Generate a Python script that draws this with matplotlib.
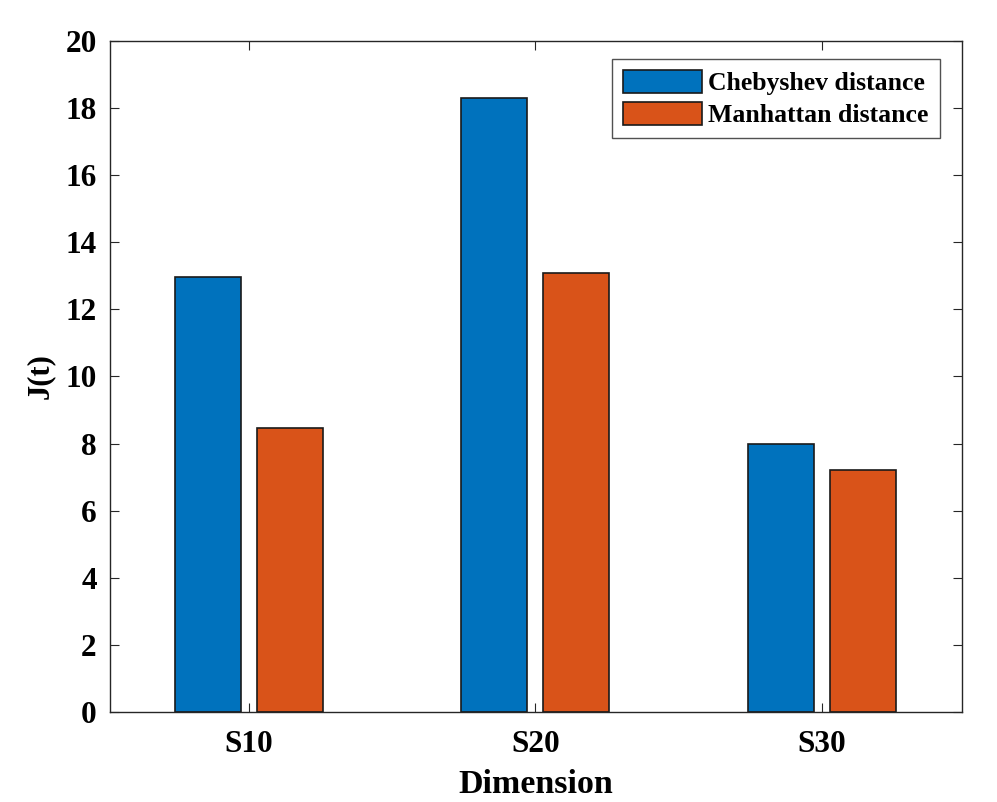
import matplotlib
matplotlib.use("Agg")
import matplotlib.pyplot as plt
import numpy as np

groups = ["S10", "S20", "S30"]
chebyshev = [12.96, 18.29, 7.98]
manhattan = [8.46, 13.08, 7.20]

plt.rcParams["font.family"] = ["Liberation Serif", "DejaVu Serif"]
plt.rcParams["font.weight"] = "bold"

fig = plt.figure(figsize=(9.97, 8.02), dpi=100)
ax = fig.add_axes([0.1103, 0.1122, 0.8546, 0.8367])

x = np.arange(1, len(groups) + 1)
w = 0.23
ax.bar(x - 0.143, chebyshev, w, color="#0072BD", edgecolor="#1a1a1a", linewidth=1.2, label="Chebyshev distance")
ax.bar(x + 0.143, manhattan, w, color="#D95319", edgecolor="#1a1a1a", linewidth=1.2, label="Manhattan distance")

ax.set_xlim(0.515, 3.49)
ax.set_ylim(0, 20)
ax.set_yticks(np.arange(0, 21, 2))
ax.set_xticks(x)
ax.set_xticklabels(groups)

for s in ax.spines.values():
    s.set_color("#262626")
    s.set_linewidth(1.0)
ax.tick_params(direction="in", top=True, right=True, length=6.5, width=0.8, color="#262626",
               labelsize=22.5)
ax.tick_params(axis="y", pad=9.5)
ax.tick_params(axis="x", pad=13)
for t in ax.get_xticklabels() + ax.get_yticklabels():
    t.set_fontweight("bold")

ax.set_xlabel("Dimension", fontsize=24.5, fontweight="bold", labelpad=7)
ax.set_ylabel("J(t)", fontsize=22, fontweight="bold", labelpad=7.5)

leg = ax.legend(loc="upper right", bbox_to_anchor=(0.974, 0.973), fontsize=18.5, frameon=True,
                fancybox=False, edgecolor="#262626", handlelength=3.07, handleheight=1.0,
                borderpad=0.43, labelspacing=0.25, handletextpad=0.25, borderaxespad=0)
leg.get_frame().set_linewidth(1.0)
for t in leg.get_texts():
    t.set_fontweight("bold")

fig.savefig("out.png", dpi=100)
